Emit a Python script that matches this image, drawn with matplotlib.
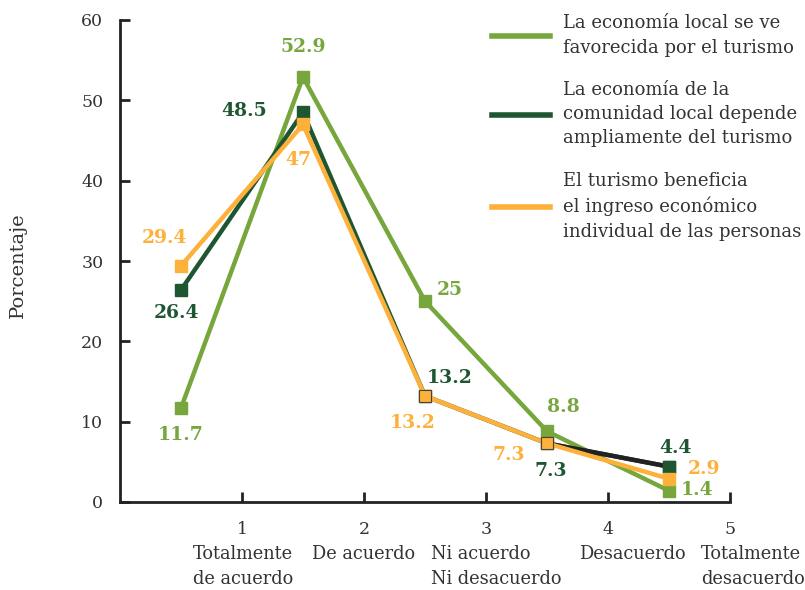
import matplotlib
matplotlib.use("Agg")
import matplotlib.pyplot as plt

plt.rcParams['font.family'] = ['DejaVu Serif']

positions = [0.5, 1.5, 2.5, 3.5, 4.5]
series_names = [
    "La economía local se ve\nfavorecida por el turismo",
    "La economía de la\ncomunidad local depende\nampliamente del turismo",
    "El turismo beneficia\nel ingreso económico\nindividual de las personas",
]
favorecida = [11.7, 52.9, 25, 8.8, 1.4]
depende = [26.4, 48.5, 13.2, 7.3, 4.4]
beneficia = [29.4, 47, 13.2, 7.3, 2.9]
tick_values = [1, 2, 3, 4, 5]
categories = ["Totalmente\nde acuerdo", "De acuerdo", "Ni acuerdo\nNi desacuerdo",
              "Desacuerdo", "Totalmente\ndesacuerdo"]

c_light = "#77A63D"
c_dark = "#1E5632"
c_orange = "#FDB13A"
c_text = "#333333"

fig = plt.figure(figsize=(8.05, 5.9), dpi=100)
ax = fig.add_axes([120/805, 1-502/590, (730-120)/805, (502-20)/590])

lw = 3.2
ms = 9.2
ax.plot(positions, favorecida, color=c_light, lw=lw, marker='s', ms=ms, zorder=3,
        label=series_names[0], solid_joinstyle='miter')
ax.plot(positions, depende, color=c_dark, lw=lw, marker='s', ms=ms, zorder=4,
        label=series_names[1], solid_joinstyle='miter')
ax.plot(positions[3:], depende[3:], color="#222222", lw=lw, zorder=4.1)
ax.plot(positions[4:], depende[4:], color=c_dark, marker='s', ms=ms, lw=0, zorder=4.2)
ax.plot(positions, beneficia, color=c_orange, lw=lw, marker='s', ms=ms, zorder=5,
        label=series_names[2], solid_joinstyle='miter',
        markeredgecolor=c_orange)
ax.plot(positions[2:4], beneficia[2:4], lw=0, marker='s', ms=ms, color=c_orange,
        markeredgecolor="#444444", markeredgewidth=0.8, zorder=5.1)

def fmt(v):
    return ("%g" % v)

# label offsets in pixels (dx, dy), dy positive = up
off_light = [(0, -27), (0, 30), (25, 11), (16, 24), (28, 1)]
off_dark = [(-5, -23), (-59, 1), (25, 18), (4, -28), (7, 19)]
off_orange = [(-17, 28), (-5, -36), (-12, -27), (-38, -12), (35, 10)]
for vals, offs, col in [(favorecida, off_light, c_light), (depende, off_dark, c_dark),
                        (beneficia, off_orange, c_orange)]:
    for x, v, (dx, dy) in zip(positions, vals, offs):
        ax.annotate(fmt(v), (x, v), xytext=(dx, dy), textcoords='offset pixels',
                    ha='center', va='center', color=col, fontsize=13.5,
                    fontweight='bold', zorder=10)

ax.set_xlim(0, 5)
ax.set_ylim(0, 60)
ax.set_yticks(range(0, 61, 10))
ax.set_xticks(tick_values)
ax.set_xticklabels([str(t) for t in tick_values])
ax.tick_params(axis='both', direction='in', length=7, width=2, labelsize=12.5,
               labelcolor=c_text, color="#222222")
ax.tick_params(axis='y', pad=12)
ax.tick_params(axis='x', pad=14)
for s in ['top', 'right']:
    ax.spines[s].set_visible(False)
for s in ['left', 'bottom']:
    ax.spines[s].set_linewidth(2)
    ax.spines[s].set_color("#222222")

ax.set_ylabel("Porcentaje", fontsize=14, color=c_text)
ax.yaxis.set_label_coords(27/805, 1-265/590, transform=fig.transFigure)

cat_left = [0.6, 1.57, 2.55, 3.76, 4.76]
for xl, cat in zip(cat_left, categories):
    ax.text(xl, -5.4, cat, ha='left', va='top', fontsize=12.75, color=c_text,
            linespacing=1.45, transform=ax.transData, clip_on=False)

leg = ax.legend(loc='upper left', bbox_to_anchor=(485/805, 1-7/590),
                bbox_transform=fig.transFigure, frameon=False, fontsize=13,
                handlelength=3.2, handletextpad=0.7, labelspacing=1.35,
                borderaxespad=0)
for t in leg.get_texts():
    t.set_color(c_text)
    t.set_linespacing(1.45)
for h in leg.legend_handles:
    h.set_marker('')
    h.set_linewidth(4)

fig.savefig("out.png", dpi=100)
